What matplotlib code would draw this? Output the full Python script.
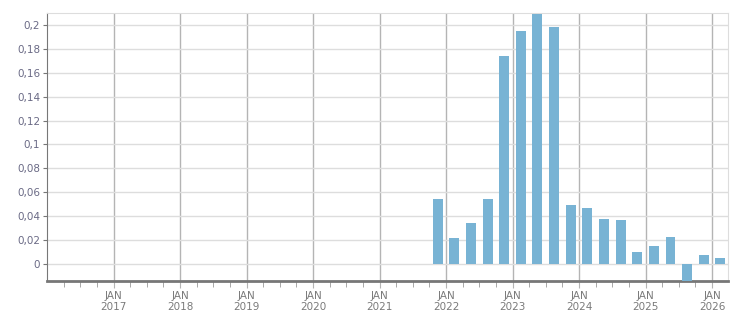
import numpy as np
import matplotlib.pyplot as plt
from matplotlib.ticker import FuncFormatter, FixedLocator

# quarterly values, Q4 2021 .. Q1 2026
years = [2021, 2022, 2022, 2022, 2022, 2023, 2023, 2023, 2023,
         2024, 2024, 2024, 2024, 2025, 2025, 2025, 2025, 2026]
quarters = [4, 1, 2, 3, 4, 1, 2, 3, 4, 1, 2, 3, 4, 1, 2, 3, 4, 1]
values = [0.054, 0.022, 0.034, 0.054, 0.174, 0.195, 0.209, 0.198, 0.049,
          0.047, 0.038, 0.037, 0.010, 0.015, 0.023, -0.014, 0.0075, 0.005]
tick_years = list(range(2017, 2027))

# bars sit at the middle of each quarter
xs = np.array(years) + (np.array(quarters) - 1) * 0.25 + 0.125

fig = plt.figure(figsize=(7.51, 3.13), dpi=100)
ax = fig.add_axes([0.0626, 0.1022, 0.9068, 0.8563])

ax.bar(xs, values, width=0.15, color='#78b3d4', zorder=3)

ax.set_xlim(2016.0, 2026.24)
ax.set_ylim(-0.0142, 0.21)

ax.set_yticks(np.arange(0, 0.201, 0.02))
ax.yaxis.set_major_formatter(FuncFormatter(
    lambda v, p: ('%g' % round(v, 3)).replace('.', ',')))
ax.set_xticks(tick_years)
ax.set_xticklabels(['JAN\n%d' % y for y in tick_years])
ax.xaxis.set_minor_locator(FixedLocator(np.arange(2016.25, 2026.25, 0.25)))

ax.grid(axis='y', color='#dddddd', lw=1, zorder=0)
ax.grid(axis='x', color='#b4b4b4', lw=1, zorder=1)

for s in ['top', 'right']:
    ax.spines[s].set_color('#dddddd')
ax.spines['left'].set_color('#777777')
ax.spines['bottom'].set_color('#777777')
ax.spines['bottom'].set_linewidth(2)

ax.tick_params(axis='y', length=3, color='#777777', labelsize=7.5,
               labelcolor='#6a6a85', pad=2)
ax.tick_params(axis='x', which='major', length=5, color='#b4b4b4',
               labelsize=7.5, labelcolor='#7a7a7a', pad=2)
ax.tick_params(axis='x', which='minor', length=4, color='#999999')

fig.savefig('out.png', dpi=100)
